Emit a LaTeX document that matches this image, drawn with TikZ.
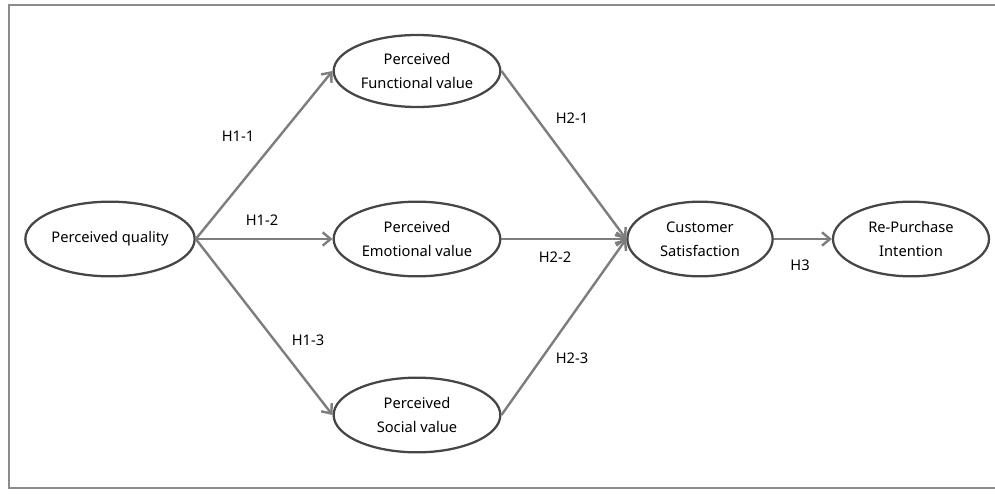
\documentclass[tikz,border=0pt]{standalone}
\usepackage{fontspec}
\setmainfont{Noto Sans}
\usepackage{tikz}
\usetikzlibrary{shapes.geometric}
\usetikzlibrary{arrows.meta}
\usepackage{xcolor}
\definecolor{ColFrame}{RGB}{140,140,140}
\definecolor{ColEdge}{RGB}{125,125,125}
\definecolor{ColNode}{RGB}{70,70,70}
\tikzstyle{NodeVar}=[ellipse,draw=ColNode,line width=1.7pt,fill=white,inner sep=0pt,
minimum width=125pt,minimum height=56pt,align=center,font=\fontsize{11}{18}\selectfont]
\tikzstyle{EdgeHyp}=[ColEdge,line width=1.8pt,-{Straight Barb[length=6pt,width=10pt,line width=1.8pt]}]
\tikzstyle{LabelHyp}=[inner sep=1pt,font=\fontsize{11}{13}\selectfont]

\begin{document}
\begin{tikzpicture}[x=0.75pt,y=-0.75pt]
        \useasboundingbox(0,0)rectangle(995,493);
        \draw[ColFrame,line width=2.2pt](1000,5)--(9,5)--(9,488)--(1000,488);
        \node[NodeVar,minimum width=127pt](pq)at(110,239){Perceived quality};
        \node[NodeVar,minimum height=54pt](fv)at(417,71){Perceived\\Functional value};
        \node[NodeVar](ev)at(417,239){Perceived\\Emotional value};
        \node[NodeVar](sv)at(417,415){Perceived\\Social value};
        \node[NodeVar,minimum width=109pt](cs)at(700,239){Customer\\Satisfaction};
        \node[NodeVar,minimum width=117pt](rp)at(911,239){Re-Purchase\\Intention};
        \draw[EdgeHyp](pq.east)--(fv.west);
        \draw[EdgeHyp](pq.east)--(ev.west);
        \draw[EdgeHyp](pq.east)--(sv.west);
        \draw[EdgeHyp](fv.east)--(cs.west);
        \draw[EdgeHyp](ev.east)--(cs.west);
        \draw[EdgeHyp](sv.east)--(cs.west);
        \draw[EdgeHyp](cs.east)--(rp.west);
        \node[LabelHyp](h11)at(238,136){H1-1};
        \node[LabelHyp](h12)at(262,220){H1-2};
        \node[LabelHyp](h13)at(308,340){H1-3};
        \node[LabelHyp](h21)at(572,118){H2-1};
        \node[LabelHyp](h22)at(555,257){H2-2};
        \node[LabelHyp](h23)at(572,358){H2-3};
        \node[LabelHyp](h3)at(800,265){H3};
    \end{tikzpicture}
\end{document}
